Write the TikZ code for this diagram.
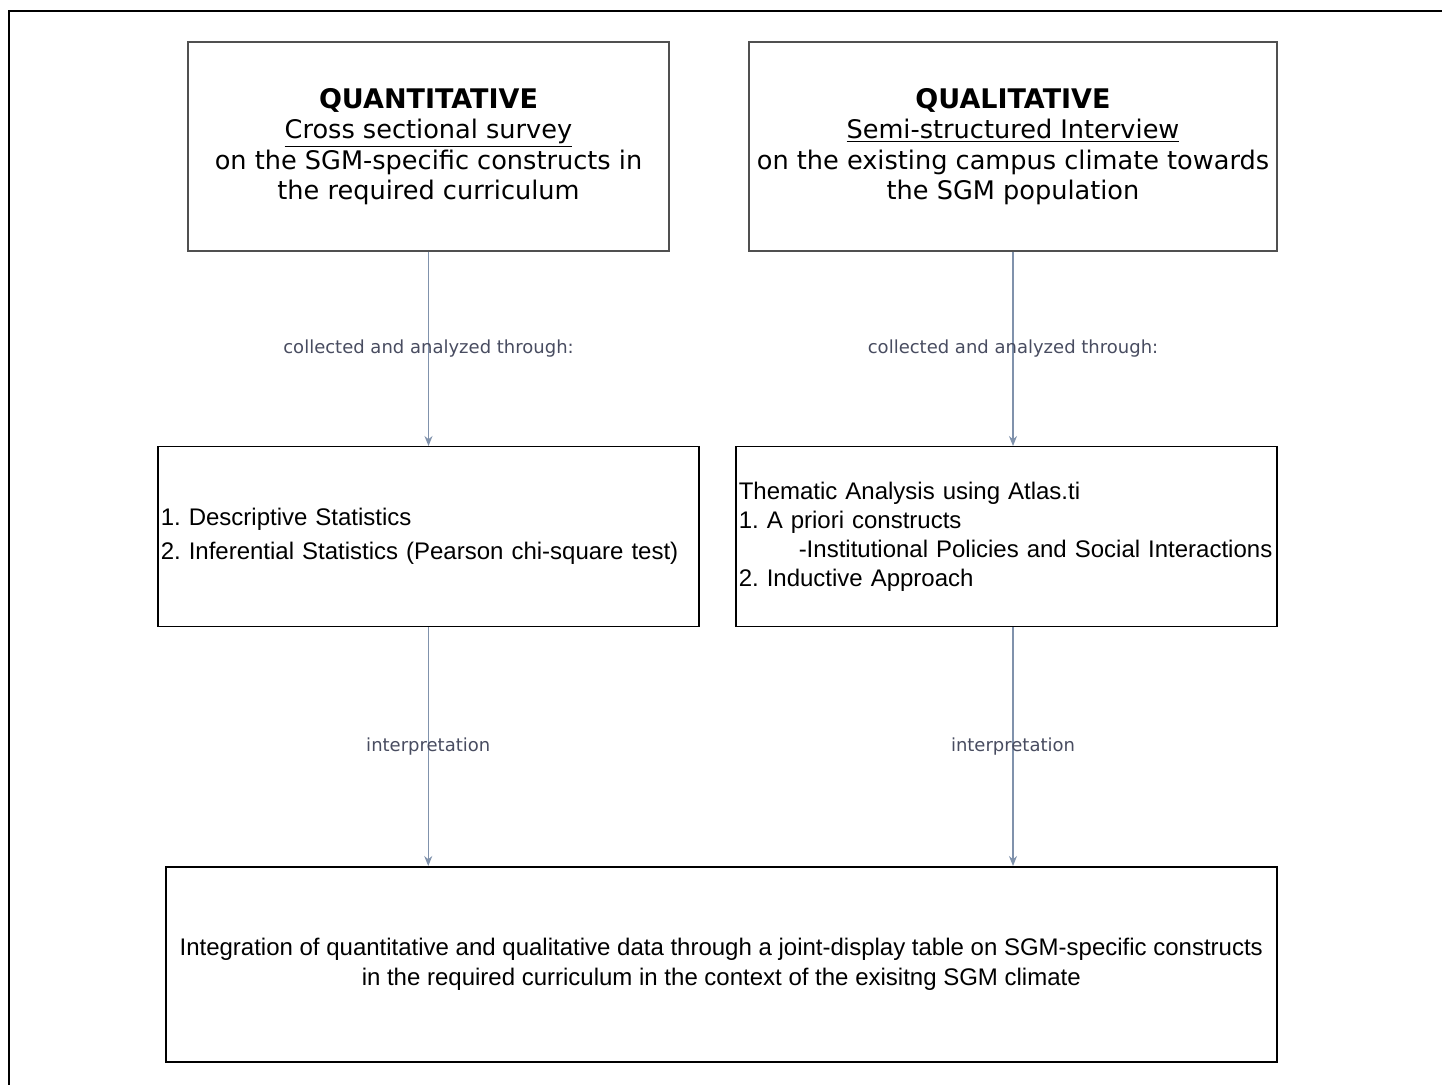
\documentclass[tikz,border=0pt]{standalone}
\usepackage{fontspec}
\setmainfont{Liberation Sans}
\newfontfamily\verdanafont{DejaVu Sans}
\usepackage{tikz}
\usetikzlibrary{arrows.meta,positioning}
\frenchspacing

\definecolor{arrowgray}{RGB}{128,146,172}
\definecolor{labelgray}{RGB}{72,76,96}
\definecolor{boxgray}{RGB}{80,80,80}

\newcommand{\methodtitle}[1]{{\fontsize{13.5}{15.25}\selectfont\textbf{#1}}}

\begin{document}
\begin{tikzpicture}[x=0.5pt,y=-0.5pt,
		methodbox/.style={draw=boxgray,line width=1pt,inner sep=0pt,anchor=north west,align=center,
			font=\verdanafont\fontsize{12.8}{15.25}\selectfont},
		analysisbox/.style={draw=black,line width=0.75pt,inner sep=1.5pt,anchor=north west,align=left,
			text width=267.5pt,minimum height=90pt,font=\fontsize{12}{17}\selectfont},
		flow/.style={draw=arrowgray,line width=0.6pt,-{Stealth[length=5pt,width=4pt]}},
		flowlabel/.style={midway,text=labelgray,font=\verdanafont\fontsize{9}{11}\selectfont}]
	\useasboundingbox (0,0) rectangle (1442,1085);
	% frame
	\draw[line width=1pt] (8.5,1085)--(8.5,11)--(1442,11);
	% top row
	\node (quant) at (187,41) [methodbox,minimum width=240.5pt,minimum height=104.5pt]
		{\methodtitle{QUANTITATIVE}\\ \underline{Cross sectional survey}\\ on the SGM-specific constructs in\\ the required curriculum};
	\node (qual) at (748,41) [methodbox,minimum width=264pt,minimum height=104.5pt]
		{\methodtitle{QUALITATIVE}\\ \underline{Semi-structured Interview}\\ on the existing campus climate towards\\ the SGM population};
	% middle row
	\node (desc) at (157,446) [analysisbox]
		{1. Descriptive Statistics\\ 2. Inferential Statistics (Pearson chi-square test)};
	\node (thematic) at (735,446) [analysisbox,font=\fontsize{12}{14.5}\selectfont]
		{Thematic Analysis using Atlas.ti\\ 1. A priori constructs\\ \hspace*{30pt}-Institutional Policies and Social Interactions\\ 2. Inductive Approach};
	% bottom
	\node (integ) at (165,866) [draw=black,line width=0.75pt,inner sep=0pt,anchor=north west,align=center,
		minimum width=555.5pt,minimum height=97.5pt,font=\fontsize{12}{15}\selectfont]
		{Integration of quantitative and qualitative data through a joint-display table on SGM-specific constructs\\ in the required curriculum in the context of the exisitng SGM climate};
	% connectors
	\draw[flow] (quant.south) -- (quant.south |- desc.north) node[flowlabel] {collected and analyzed through:};
	\draw[flow] (qual.south) -- (qual.south |- thematic.north) node[flowlabel] {collected and analyzed through:};
	\draw[flow] (desc.south) -- (desc.south |- integ.north) node[flowlabel] {interpretation};
	\draw[flow] (qual.south |- thematic.south) -- (qual.south |- integ.north) node[flowlabel] {interpretation};
\end{tikzpicture}
\end{document}
